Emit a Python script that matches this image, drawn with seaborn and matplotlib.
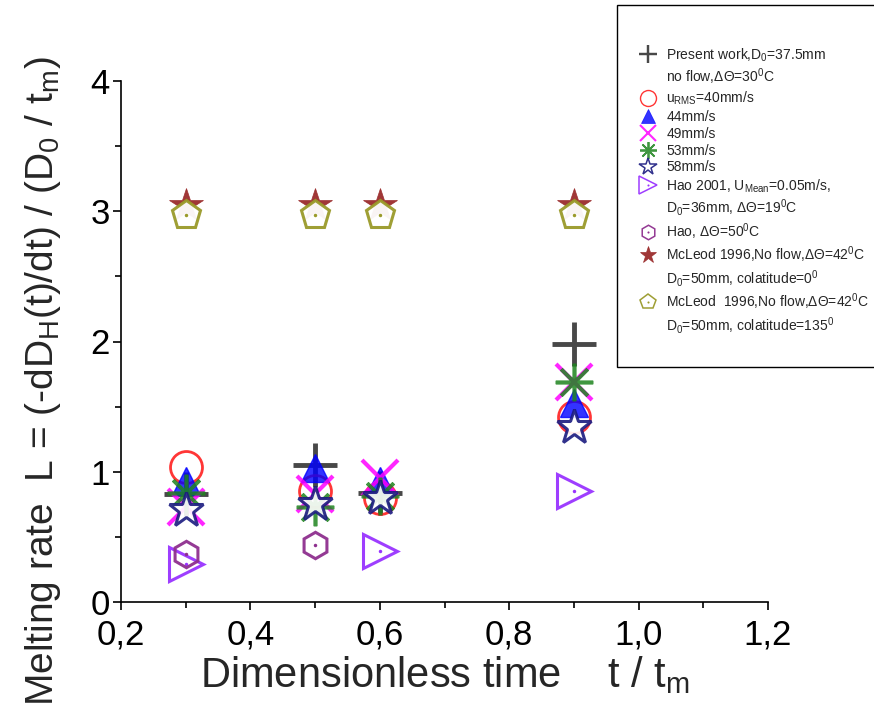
'''
Melting rate versus dimensionless time, present work compared with Hao and McLeod
'''
import matplotlib
matplotlib.use('Agg')
import matplotlib.pyplot as plt
import seaborn as sns
from matplotlib.lines import Line2D
from matplotlib.ticker import MultipleLocator, FuncFormatter

# data
t_all = [0.3, 0.5, 0.6, 0.9]
present_work = [0.83, 1.05, 0.84, 1.98]
u_40 = [1.04, 0.85, 0.80, 1.42]
u_44 = [0.93, 1.03, 0.93, 1.53]
u_49 = [0.73, 0.83, 0.95, 1.69]
u_53 = [0.84, 0.73, 0.81, 1.69]
u_58 = [0.71, 0.75, 0.80, 1.34]
t_hao2001 = [0.3, 0.6, 0.9]
hao2001 = [0.29, 0.39, 0.85]
t_hao50 = [0.3, 0.5]
hao50 = [0.37, 0.44]
mcleod_0 = [3.05, 3.05, 3.05, 3.05]
mcleod_135 = [2.97, 2.97, 2.97, 2.97]

legend_labels = [
    'Present work,D$_0$=37.5mm',
    'no flow,ΔΘ=30$^0$C',
    'u$_{RMS}$=40mm/s',
    '44mm/s',
    '49mm/s',
    '53mm/s',
    '58mm/s',
    'Hao 2001, U$_{Mean}$=0.05m/s,',
    'D$_0$=36mm, ΔΘ=19$^0$C',
    'Hao, ΔΘ=50$^0$C',
    'McLeod 1996,No flow,ΔΘ=42$^0$C',
    'D$_0$=50mm, colatitude=0$^0$',
    'McLeod  1996,No flow,ΔΘ=42$^0$C',
    'D$_0$=50mm, colatitude=135$^0$',
]

sns.set_style('ticks')
plt.rcParams['font.family'] = ['Liberation Sans', 'DejaVu Sans']
plt.rcParams['mathtext.default'] = 'regular'

fig = plt.figure(figsize=(8.74, 7.05), dpi=100)
ax = fig.add_axes([121 / 874, 1 - 602 / 705, 647 / 874, 521 / 705])

'''
style of every series: marker, size, edge width, edge colour, face colour, alpha
'''
white_face = (1, 1, 1, 0.75)
styles = [
    dict(marker='+', ms=31, mew=3.5, mec='#1a1a1a', mfc='#1a1a1a', alpha=0.8),
    dict(marker='o', ms=23, mew=2, mec='#ff2020', mfc='none', alpha=0.9),
    dict(marker='^', ms=20, mew=1, mec='#0000ff', mfc='#0000ff', alpha=0.8),
    dict(marker='x', ms=26, mew=3, mec='#ff00ff', mfc='#ff00ff', alpha=0.85),
    dict(marker=(8, 2, 0), ms=27, mew=2.6, mec='#1e841e', mfc='#1e841e', alpha=0.85),
    dict(marker='*', ms=26, mew=2.2, mec='#1a1a80', mfc=white_face, alpha=0.9),
    dict(marker='>', ms=25, mew=2.2, mec='#9933ff', mfc='none', alpha=0.95),
    dict(marker='h', ms=19, mew=2.2, mec='#8e2f8e', mfc='none', alpha=0.95),
    dict(marker='*', ms=25, mew=0.5, mec='#9b2c2c', mfc='#9b2c2c', alpha=0.95),
    dict(marker='p', ms=21, mew=2.2, mec='#9a9a2a', mfc=white_face, alpha=0.95),
]
series = [
    (t_all, present_work), (t_all, u_40), (t_all, u_44), (t_all, u_49),
    (t_all, u_53), (t_all, u_58), (t_hao2001, hao2001), (t_hao50, hao50),
    (t_all, mcleod_0), (t_all, mcleod_135),
]
dotted = [6, 7, 9]

for i, ((xs, ys), st) in enumerate(zip(series, styles)):
    sns.lineplot(x=xs, y=ys, ax=ax, linestyle='none', **st)
    if i in dotted:
        sns.lineplot(x=xs, y=ys, ax=ax, linestyle='none', marker='o',
                     ms=2.5, mew=0, color=st['mec'])

'''
axes, ticks and labels
'''
ax.set_xlim(0.2, 1.2)
ax.set_ylim(0, 4)
ax.xaxis.set_major_locator(MultipleLocator(0.2))
ax.xaxis.set_minor_locator(MultipleLocator(0.1))
ax.yaxis.set_major_locator(MultipleLocator(1))
ax.yaxis.set_minor_locator(MultipleLocator(0.5))
ax.xaxis.set_major_formatter(FuncFormatter(lambda v, p: f'{v:.1f}'.replace('.', ',')))
ax.yaxis.set_major_formatter(FuncFormatter(lambda v, p: f'{v:.0f}'))
ax.tick_params(which='major', direction='out', length=6, width=1.2,
               labelsize=25, colors='black')
ax.tick_params(axis='y', which='major', pad=2)
ax.tick_params(axis='x', which='major', pad=6)
ax.tick_params(which='minor', direction='out', length=4, width=1.2, colors='black')
sns.despine(ax=ax)
for side in ['left', 'bottom']:
    ax.spines[side].set_linewidth(1.2)
    ax.spines[side].set_color('black')

ax.set_xlabel('Dimensionless time    t / t$_m$', fontsize=30, labelpad=2)
ax.set_ylabel('Melting rate  L = (-dD$_H$(t)/dt) / (D$_0$ / t$_m$)', fontsize=28)
ax.yaxis.set_label_coords(-0.09, 0.425)

'''
legend built by hand, continuation lines get an empty handle
'''
def handle(st, dot=False, scale=0.5):
    h = Line2D([], [], linestyle='none',
               **dict(st, ms=st['ms'] * scale, mew=max(st['mew'] * 0.5, 0.5)))
    if dot:
        d = Line2D([], [], linestyle='none', marker='o', ms=1.5, mew=0, color=st['mec'])
        return (h, d)
    return h

blank = Line2D([], [], linestyle='none')
handles = [
    handle(styles[0], scale=0.42), blank, handle(styles[1]), handle(styles[2]),
    handle(styles[3], scale=0.45), handle(styles[4], scale=0.45), handle(styles[5]),
    handle(styles[6], True), blank, handle(styles[7], True, 0.55),
    handle(styles[8]), blank, handle(styles[9], True, 0.55), blank, blank,
]
labels = legend_labels + [' ']

leg = fig.legend(handles, labels, loc='upper left',
                 bbox_to_anchor=(617 / 874, 1 - 5 / 705), fontsize=10,
                 title=' ', title_fontsize=18, frameon=True, fancybox=False,
                 edgecolor='black', framealpha=1, borderpad=1.05, borderaxespad=0,
                 handlelength=2.3, handletextpad=0.2, labelspacing=0.2)
leg.get_frame().set_linewidth(1.0)

plt.savefig('out.png', dpi=100)
